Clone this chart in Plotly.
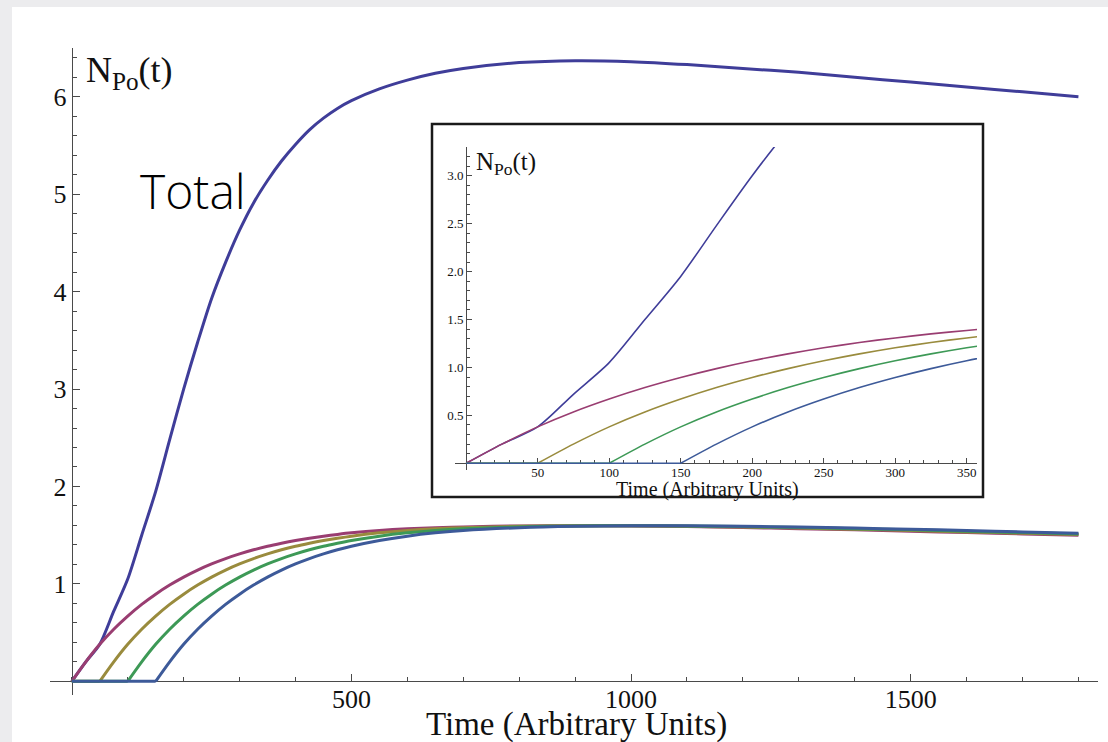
import plotly.graph_objects as go

# Time grid (arbitrary units)
t = [0, 25, 50, 75, 100, 125, 150, 175, 200, 225, 250, 275, 300, 325, 350,
     375, 400, 425, 450, 475, 500, 550, 600, 650, 700, 800, 900, 1000, 1100,
     1200, 1300, 1400, 1500, 1600, 1700, 1800]

# Total Po population
total = [0, 0.20, 0.38, 0.72, 1.05, 1.50, 1.95, 2.48, 3.00, 3.48, 3.93, 4.30,
         4.63, 4.91, 5.14, 5.34, 5.51, 5.66, 5.78, 5.88, 5.96, 6.08, 6.17,
         6.24, 6.29, 6.35, 6.37, 6.36, 6.33, 6.29, 6.25, 6.20, 6.15, 6.10,
         6.05, 6.00]

# Individual contributions, started at t = 0, 50, 100, 150
s0 = [0, 0.200, 0.380, 0.535, 0.670, 0.790, 0.895, 0.988, 1.070, 1.142, 1.205,
      1.260, 1.308, 1.350, 1.386, 1.417, 1.445, 1.469, 1.490, 1.508, 1.524,
      1.549, 1.566, 1.577, 1.585, 1.595, 1.598, 1.595, 1.588, 1.578, 1.567,
      1.555, 1.541, 1.527, 1.513, 1.499]
s50 = [0, 0, 0, 0.200, 0.380, 0.535, 0.670, 0.790, 0.895, 0.988, 1.070,
       1.142, 1.205, 1.260, 1.308, 1.350, 1.386, 1.417, 1.445, 1.469, 1.490,
       1.524, 1.549, 1.566, 1.577, 1.591, 1.597, 1.597, 1.592, 1.583, 1.573,
       1.561, 1.548, 1.534, 1.520, 1.506]
s100 = [0, 0, 0, 0, 0, 0.200, 0.380, 0.535, 0.670, 0.790, 0.895,
        0.988, 1.070, 1.142, 1.205, 1.260, 1.308, 1.350, 1.386, 1.417, 1.445,
        1.490, 1.524, 1.549, 1.566, 1.585, 1.595, 1.598, 1.595, 1.588, 1.578,
        1.567, 1.555, 1.541, 1.527, 1.513]
s150 = [0, 0, 0, 0, 0, 0, 0, 0.200, 0.380, 0.535, 0.670,
        0.790, 0.895, 0.988, 1.070, 1.142, 1.205, 1.260, 1.308, 1.350, 1.386,
        1.445, 1.490, 1.524, 1.549, 1.577, 1.591, 1.597, 1.597, 1.592, 1.583,
        1.573, 1.561, 1.548, 1.534, 1.520]

series = [total, s0, s50, s100, s150]
colors = ["#3f3d99", "#993d71", "#998b3d", "#3d9956", "#3d5a99"]

main_xticks = [500, 1000, 1500]
main_yticks = [1, 2, 3, 4, 5, 6]
inset_xticks = [50, 100, 150, 200, 250, 300, 350]
inset_yticks = [0.5, 1.0, 1.5, 2.0, 2.5, 3.0]

W, H = 1108, 742
ML, MR, MT, MB = 50, 10, 48, 47
PW, PH = W - ML - MR, H - MT - MB


def px(xp):
    return (xp - ML) / PW


def py(yp):
    return (H - MB - yp) / PH


serif = "Liberation Serif, Times New Roman, serif"
ink = "#111111"
axcol = "#4a4a4a"

fig = go.Figure()


def add_series(ys, color, width, xa, ya):
    # flat part before the onset is straight, the rest is a smooth curve
    k = next(i for i, v in enumerate(ys) if v > 0)
    if k > 1:
        fig.add_trace(go.Scatter(x=t[:k], y=ys[:k], mode="lines",
                                 line=dict(color=color, width=width),
                                 xaxis=xa, yaxis=ya, showlegend=False, hoverinfo="skip"))
    fig.add_trace(go.Scatter(x=t[k - 1:], y=ys[k - 1:], mode="lines",
                             line=dict(color=color, width=width, shape="spline", smoothing=0.8),
                             xaxis=xa, yaxis=ya, showlegend=False, hoverinfo="skip"))


for ys, c in zip(series, colors):
    add_series(ys, c, 3, "x", "y")
for ys, c in zip(series, colors):
    add_series(ys, c, 1.6, "x2", "y2")

xr_main = [-39, 1835]
yr_main = [-0.14, 6.50]
xr_in = [-7.8, 357.2]
yr_in = [-0.07, 3.30]

in_x0, in_x1, in_y0, in_y1 = 455, 977, 147, 470

common = dict(showgrid=False, zeroline=False, showline=True, linecolor=axcol,
              linewidth=1.3, ticks="inside", tickcolor=axcol, layer="below traces")

fig.update_layout(
    width=W, height=H,
    margin=dict(l=ML, r=MR, t=MT, b=MB),
    paper_bgcolor="#ececee",
    plot_bgcolor="rgba(0,0,0,0)",
    xaxis=dict(common, domain=[0, 1], range=xr_main, anchor="free",
               position=-yr_main[0] / (yr_main[1] - yr_main[0]),
               tickmode="array", tickvals=main_xticks, ticklen=7, tickwidth=1.3,
               ticklabelstandoff=-6,
               minor=dict(tickmode="linear", tick0=0, dtick=100, ticklen=4,
                          ticks="inside", tickcolor=axcol),
               tickfont=dict(family=serif, size=26, color=ink)),
    yaxis=dict(common, domain=[0, 1], range=yr_main, anchor="free",
               position=-xr_main[0] / (xr_main[1] - xr_main[0]),
               tickmode="array", tickvals=main_yticks, ticklen=7, tickwidth=1.3,
               minor=dict(tickmode="linear", tick0=0, dtick=0.2, ticklen=4,
                          ticks="inside", tickcolor=axcol),
               tickfont=dict(family=serif, size=26, color=ink)),
    xaxis2=dict(common, domain=[px(in_x0), px(in_x1)], range=xr_in, anchor="free",
                position=py(in_y1) + (py(in_y0) - py(in_y1)) * (-yr_in[0]) / (yr_in[1] - yr_in[0]),
                tickmode="array", tickvals=inset_xticks, ticklen=5, tickwidth=1,
                linewidth=1, ticklabelstandoff=-3,
                minor=dict(tickmode="linear", tick0=0, dtick=10, ticklen=3,
                           ticks="inside", tickcolor=axcol),
                tickfont=dict(family=serif, size=13, color=ink)),
    yaxis2=dict(common, domain=[py(in_y1), py(in_y0)], range=yr_in, anchor="free",
                position=px(in_x0) + (px(in_x1) - px(in_x0)) * (-xr_in[0]) / (xr_in[1] - xr_in[0]),
                tickmode="array", tickvals=inset_yticks, ticklen=5, tickwidth=1,
                linewidth=1, tickformat=".1f",
                minor=dict(tickmode="linear", tick0=0, dtick=0.1, ticklen=3,
                           ticks="inside", tickcolor=axcol),
                tickfont=dict(family=serif, size=13, color=ink)),
    shapes=[
        dict(type="rect", xref="paper", yref="paper", layer="below",
             x0=px(12), x1=px(W + 20), y0=py(H + 20), y1=py(7),
             fillcolor="white", line=dict(width=0)),
        dict(type="rect", xref="paper", yref="paper", layer="below",
             x0=px(432), x1=px(983), y0=py(497), y1=py(124),
             fillcolor="white", line=dict(color="#1a1a1a", width=2.5)),
    ],
    annotations=[
        dict(text="N<sub>Po</sub>(t)", xref="paper", yref="paper",
             x=px(84), y=py(73), xanchor="left", yanchor="middle", showarrow=False,
             font=dict(family=serif, size=36, color=ink)),
        dict(text="Total", xref="paper", yref="paper",
             x=px(193), y=py(191), xanchor="center", yanchor="middle", showarrow=False,
             font=dict(family="Open Sans, sans-serif", size=48, weight=300, color="#000000")),
        dict(text="Time (Arbitrary Units)", xref="paper", yref="paper",
             x=px(576), y=py(724), xanchor="center", yanchor="middle", showarrow=False,
             font=dict(family=serif, size=33, color=ink)),
        dict(text="N<sub>Po</sub>(t)", xref="paper", yref="paper",
             x=px(474), y=py(163), xanchor="left", yanchor="middle", showarrow=False,
             font=dict(family=serif, size=25, color=ink)),
        dict(text="Time (Arbitrary Units)", xref="paper", yref="paper",
             x=px(707), y=py(490), xanchor="center", yanchor="middle", showarrow=False,
             font=dict(family=serif, size=20, color=ink)),
    ],
)

fig.write_html("out.html")
